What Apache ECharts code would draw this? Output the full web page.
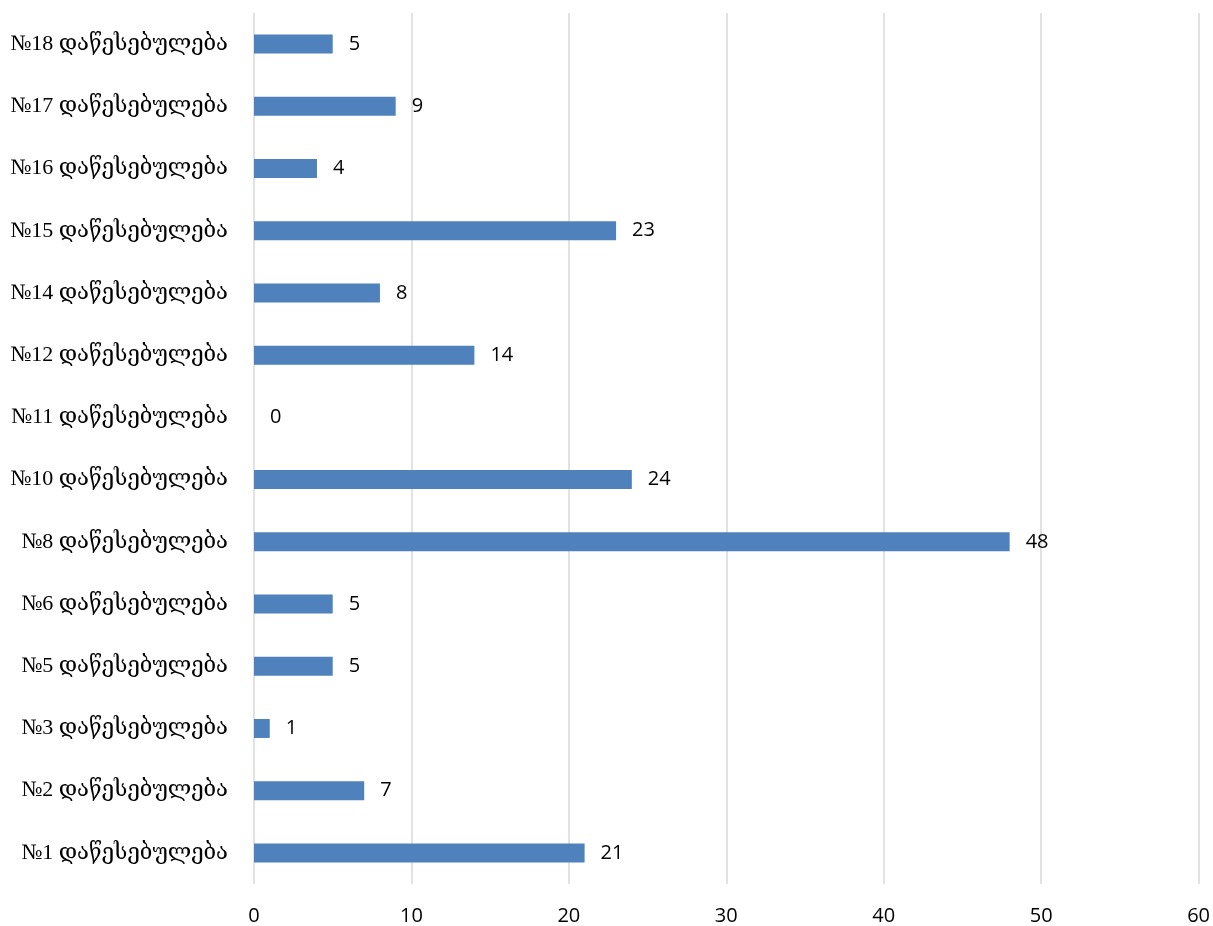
<!DOCTYPE html>
<html>
<head>
<meta charset="utf-8">
<script src="https://cdn.jsdelivr.net/npm/echarts@6/dist/echarts.min.js"></script>
<style>
html,body{margin:0;padding:0;background:#fff;}
#chart{width:1213px;height:926px;}
</style>
</head>
<body>
<div id="chart"></div>
<script>
const categories = ["№1 დაწესებულება","№2 დაწესებულება","№3 დაწესებულება","№5 დაწესებულება","№6 დაწესებულება","№8 დაწესებულება","№10 დაწესებულება","№11 დაწესებულება","№12 დაწესებულება","№14 დაწესებულება","№15 დაწესებულება","№16 დაწესებულება","№17 დაწესებულება","№18 დაწესებულება"];
const values = [21,7,1,5,5,48,24,0,14,8,23,4,9,5];
const xTicks = [0,10,20,30,40,50,60];

const chart = echarts.init(document.getElementById('chart'));
chart.setOption({
  animation:false,
  grid:{left:254,right:14,top:13,bottom:40,containLabel:false},
  xAxis:{
    type:'value',min:0,max:60,interval:10,
    axisLine:{show:false},axisTick:{show:false},
    splitLine:{show:true,lineStyle:{color:'#d9d9d9',width:1.5}},
    axisLabel:{margin:22,color:'#000',fontSize:20,fontFamily:'"Open Sans", "Liberation Sans", sans-serif',
      formatter:v=>xTicks.includes(v)?String(v):''}
  },
  yAxis:{
    type:'category',data:categories,
    axisLine:{show:false},axisTick:{show:false},
    axisLabel:{margin:26,color:'#000',fontSize:22,fontFamily:'"Liberation Serif", "DejaVu Serif", serif'}
  },
  series:[{
    type:'bar',data:values,barWidth:19,
    itemStyle:{color:'#4F81BD'},
    label:{show:true,position:'right',distance:16,color:'#000',fontSize:20,fontFamily:'"Open Sans", "Liberation Sans", sans-serif'}
  }]
});
</script>
</body>
</html>
